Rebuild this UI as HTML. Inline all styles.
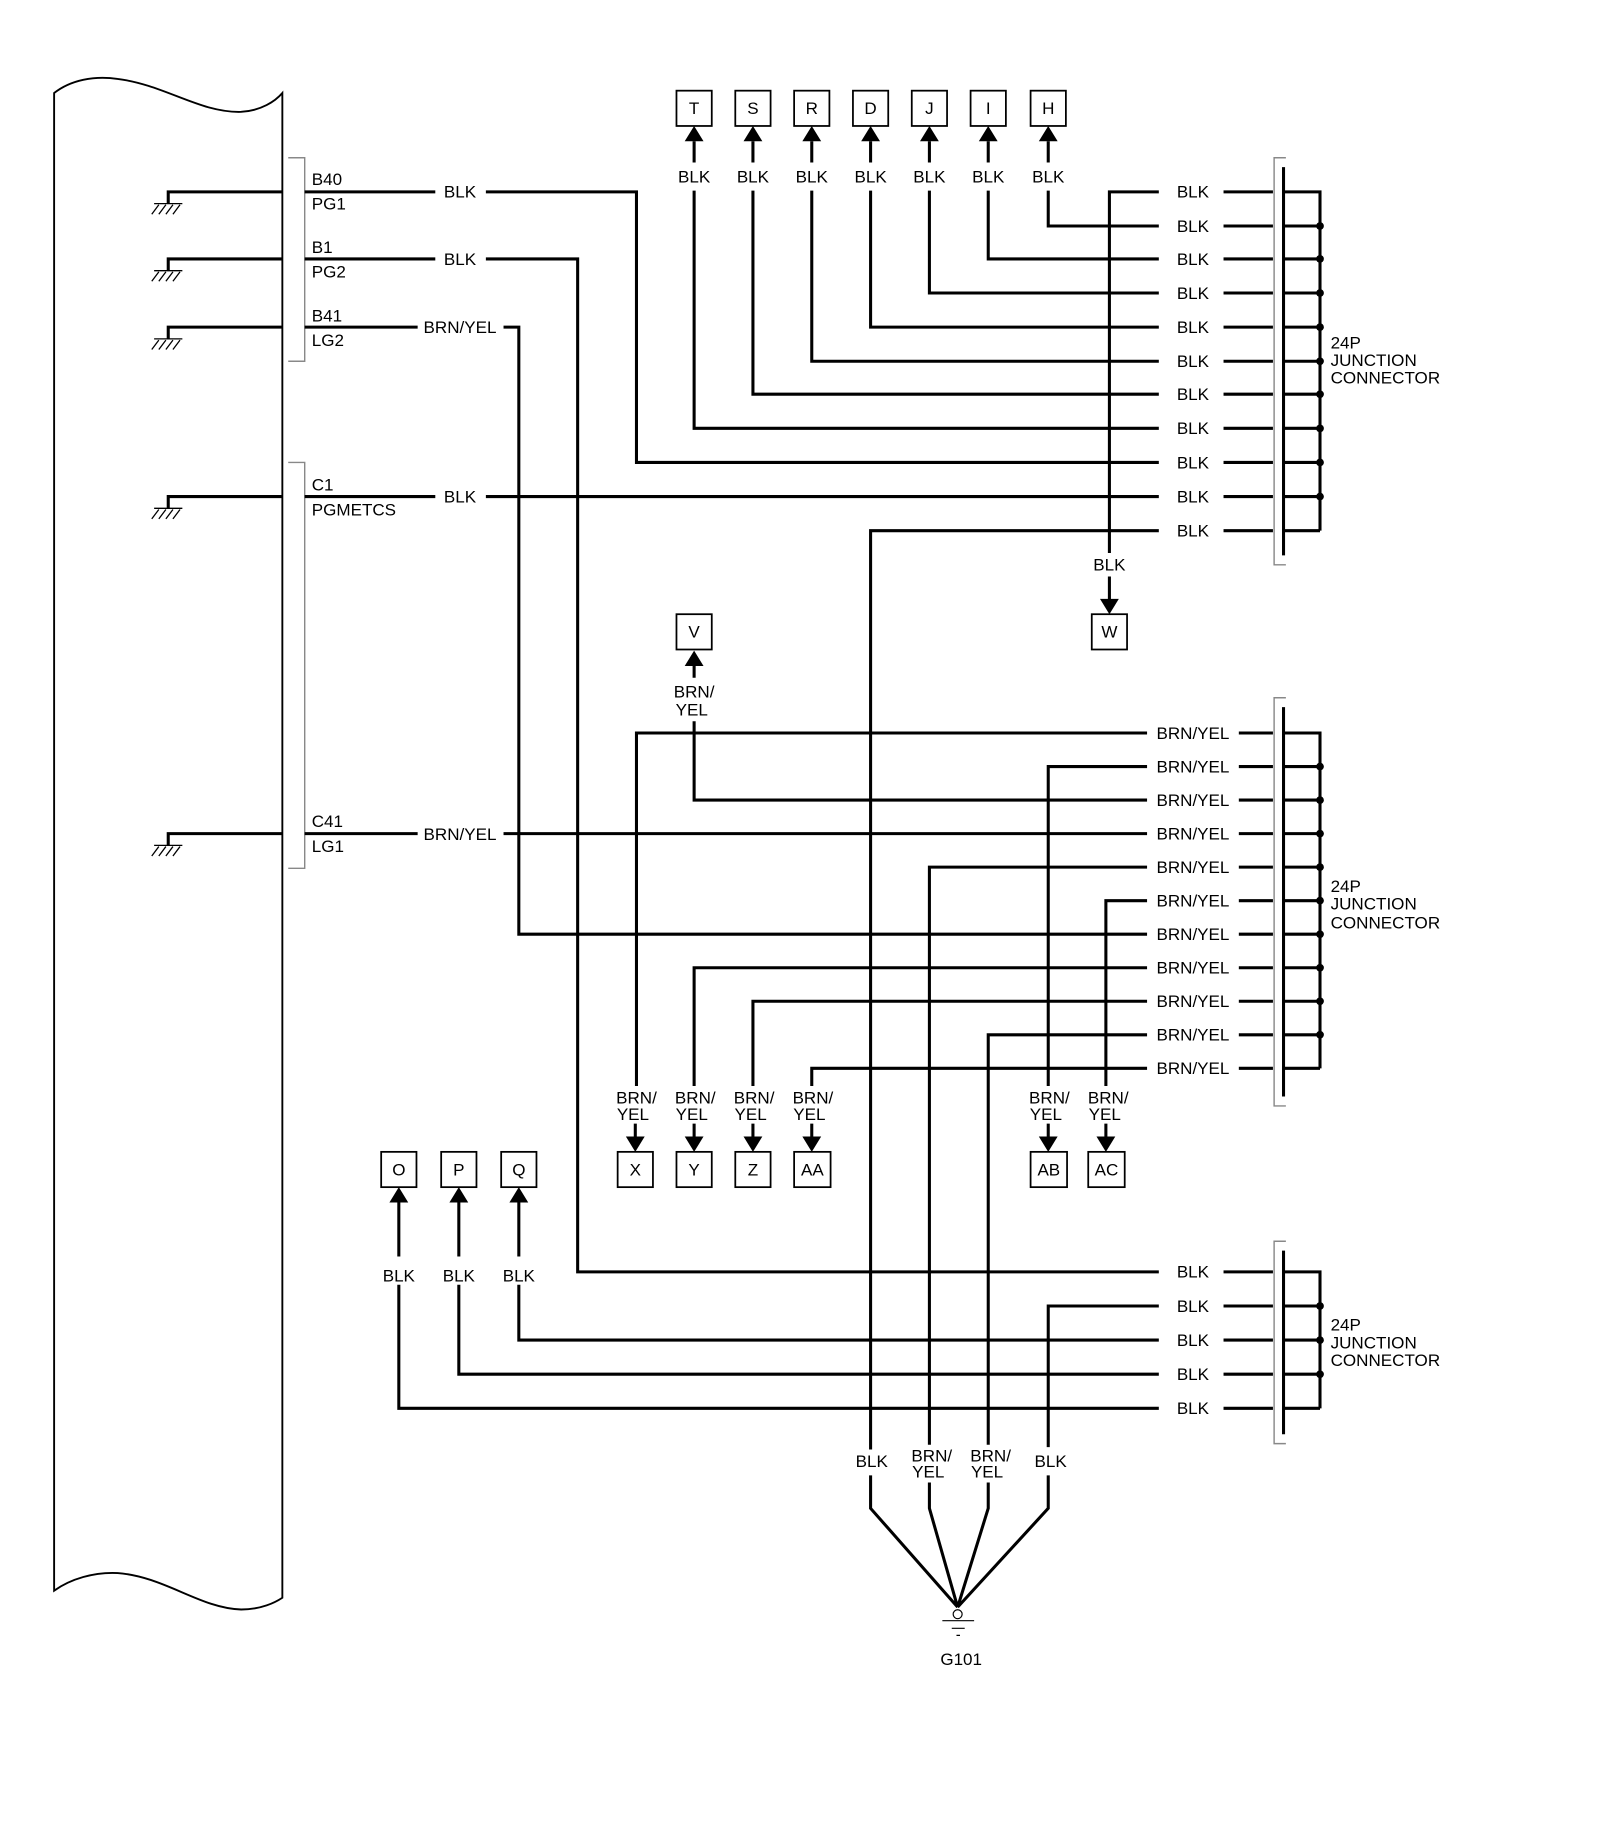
<!DOCTYPE html>
<html><head><meta charset="utf-8"><style>
html,body{margin:0;padding:0;background:#fff;}
svg{display:block;}
text{font-family:"Liberation Sans",Arial,sans-serif;font-size:14.5px;fill:#000;}
.m{text-anchor:middle;}
</style></head><body>
<svg width="1600" height="1839" viewBox="0 0 1360 1563" xmlns="http://www.w3.org/2000/svg">
<g fill="none" stroke="#000" stroke-width="1.6">
<path d="M46,79 C60,68 80,64 100,67 C140,72 170,96 205,95 C222,94 234,86 240,79 V1358 C234,1362 222,1368 205,1368 C170,1367 140,1340 100,1337 C80,1336 60,1342 46,1352 Z"/>
</g>
<!-- grounds at module -->
<g fill="none" stroke="#000" stroke-width="2.6">
<path d="M240,163H143V173 M240,220H143V230 M240,278H143V288 M240,422H143V432 M240,708.5H143V718.5"/>
</g>
<g fill="none" stroke="#000" stroke-width="1.1">
<path d="M131,173H155 M135,174l-6,8 M141,174l-6,8 M147,174l-6,8 M153,174l-6,8"/>
<path d="M131,230H155 M135,231l-6,8 M141,231l-6,8 M147,231l-6,8 M153,231l-6,8"/>
<path d="M131,288H155 M135,289l-6,8 M141,289l-6,8 M147,289l-6,8 M153,289l-6,8"/>
<path d="M131,432H155 M135,433l-6,8 M141,433l-6,8 M147,433l-6,8 M153,433l-6,8"/>
<path d="M131,718.5H155 M135,719.5l-6,8 M141,719.5l-6,8 M147,719.5l-6,8 M153,719.5l-6,8"/>
</g>
<!-- gray brackets -->
<g fill="none" stroke="#888" stroke-width="1.2">
<path d="M245,134H259V307H245 M245,393H259V738H245"/>
<path d="M1093,134H1083V480H1093 M1093,593H1083V940H1093 M1093,1055H1083V1227H1093"/>
</g>
<!-- wires -->
<g fill="none" stroke="#000" stroke-width="2.6">
<path d="M259,163H370 M413,163H541V393H985"/>
<path d="M259,220H370 M413,220H491V1081H985"/>
<path d="M259,278H355 M428,278H441V794H975"/>
<path d="M259,422H370 M413,422H985"/>
<path d="M259,708.5H355 M428,708.5H975"/>
<!-- connector1 sources -->
<path d="M943,470V163H985"/>
<path d="M891,162V192H985 M840,162V220H985 M790,162V249H985 M740,162V278H985 M690,162V307H985 M640,162V335H985 M590,162V364H985"/>
<path d="M740,1232V451H985"/>
<!-- connector1 right -->
<path d="M1040,163H1082 M1040,192H1082 M1040,220H1082 M1040,249H1082 M1040,278H1082 M1040,307H1082 M1040,335H1082 M1040,364H1082 M1040,393H1082 M1040,422H1082 M1040,451H1082"/>
<path d="M1091,142V472 M1091,163H1122V451 M1091,192H1122 M1091,220H1122 M1091,249H1122 M1091,278H1122 M1091,307H1122 M1091,335H1122 M1091,364H1122 M1091,393H1122 M1091,422H1122 M1091,451H1122"/>
<!-- connector2 sources -->
<path d="M541,923V623H975 M891,923V651.5H975 M590,613V680H975 M790,1228V737H975 M940,923V765.5H975 M590,923V822.5H975 M640,923V851H975 M840,1228V879.5H975 M690,923V908H975"/>
<path d="M1053,623H1082 M1053,651.5H1082 M1053,680H1082 M1053,708.5H1082 M1053,737H1082 M1053,765.5H1082 M1053,794H1082 M1053,822.5H1082 M1053,851H1082 M1053,879.5H1082 M1053,908H1082"/>
<path d="M1091,601V932 M1091,623H1122V908 M1091,651.5H1122 M1091,680H1122 M1091,708.5H1122 M1091,737H1122 M1091,765.5H1122 M1091,794H1122 M1091,822.5H1122 M1091,851H1122 M1091,879.5H1122 M1091,908H1122"/>
<!-- connector3 -->
<path d="M891,1230V1110H985 M441,1092V1139H985 M390,1092V1168H985 M339,1092V1197H985"/>
<path d="M1040,1081H1082 M1040,1110H1082 M1040,1139H1082 M1040,1168H1082 M1040,1197H1082"/>
<path d="M1091,1063V1219 M1091,1081H1122V1197 M1091,1110H1122 M1091,1139H1122 M1091,1168H1122 M1091,1197H1122"/>
<!-- ground converge -->
<path d="M740,1254V1282L814,1366 M790,1260V1282L814,1366 M840,1260V1282L814,1366 M891,1254V1282L814,1366"/>
<!-- arrow shafts -->
<path d="M590,120V138 M640,120V138 M690,120V138 M740,120V138 M790,120V138 M840,120V138 M891,120V138"/>
<path d="M943,490V510 M590,565V576"/>
<path d="M540,955V967 M590,955V967 M640,955V967 M690,955V967 M891,955V967 M940,955V967"/>
<path d="M339,1021V1068 M390,1021V1068 M441,1021V1068"/>
</g>
<!-- dots -->
<g fill="#000">
<circle cx="1122" cy="192" r="3.3"/><circle cx="1122" cy="220" r="3.3"/><circle cx="1122" cy="249" r="3.3"/><circle cx="1122" cy="278" r="3.3"/><circle cx="1122" cy="307" r="3.3"/><circle cx="1122" cy="335" r="3.3"/><circle cx="1122" cy="364" r="3.3"/><circle cx="1122" cy="393" r="3.3"/><circle cx="1122" cy="422" r="3.3"/>
<circle cx="1122" cy="651.5" r="3.3"/><circle cx="1122" cy="680" r="3.3"/><circle cx="1122" cy="708.5" r="3.3"/><circle cx="1122" cy="737" r="3.3"/><circle cx="1122" cy="765.5" r="3.3"/><circle cx="1122" cy="794" r="3.3"/><circle cx="1122" cy="822.5" r="3.3"/><circle cx="1122" cy="851" r="3.3"/><circle cx="1122" cy="879.5" r="3.3"/>
<circle cx="1122" cy="1110" r="3.3"/><circle cx="1122" cy="1139" r="3.3"/><circle cx="1122" cy="1168" r="3.3"/>
<!-- arrowheads up -->
<path d="M590,107l-8,13h16z M640,107l-8,13h16z M690,107l-8,13h16z M740,107l-8,13h16z M790,107l-8,13h16z M840,107l-8,13h16z M891,107l-8,13h16z"/>
<path d="M590,553l-8,13h16z"/>
<path d="M339,1009l-8,13h16z M390,1009l-8,13h16z M441,1009l-8,13h16z"/>
<!-- arrowheads down -->
<path d="M943,522l-8,-13h16z"/>
<path d="M540,979l-8,-13h16z M590,979l-8,-13h16z M640,979l-8,-13h16z M690,979l-8,-13h16z M891,979l-8,-13h16z M940,979l-8,-13h16z"/>
</g>
<!-- boxes -->
<g fill="#fff" stroke="#000" stroke-width="1.5">
<rect x="575" y="77" width="30" height="30"/><rect x="625" y="77" width="30" height="30"/><rect x="675" y="77" width="30" height="30"/><rect x="725" y="77" width="30" height="30"/><rect x="775" y="77" width="30" height="30"/><rect x="825" y="77" width="30" height="30"/><rect x="876" y="77" width="30" height="30"/>
<rect x="928" y="522" width="30" height="30"/><rect x="575" y="522" width="30" height="30"/>
<rect x="525" y="979" width="30" height="30"/><rect x="575" y="979" width="30" height="30"/><rect x="625" y="979" width="30" height="30"/><rect x="675" y="979" width="31" height="30"/><rect x="876" y="979" width="31" height="30"/><rect x="925" y="979" width="31" height="30"/>
<rect x="324" y="979" width="30" height="30"/><rect x="375" y="979" width="30" height="30"/><rect x="426" y="979" width="30" height="30"/>
</g>
<!-- ground symbol -->
<g fill="none" stroke="#000" stroke-width="1">
<circle cx="814" cy="1372" r="3.8"/>
<path d="M801,1377.5H828 M809,1384H820 M813,1390H816"/>
</g>
<!-- text -->
<g>
<text class="m" x="590" y="97">T</text><text class="m" x="640" y="97">S</text><text class="m" x="690" y="97">R</text><text class="m" x="740" y="97">D</text><text class="m" x="790" y="97">J</text><text class="m" x="840" y="97">I</text><text class="m" x="891" y="97">H</text>
<text class="m" x="943" y="542">W</text><text class="m" x="590" y="542">V</text>
<text class="m" x="540" y="999">X</text><text class="m" x="590" y="999">Y</text><text class="m" x="640" y="999">Z</text><text class="m" x="690.5" y="999">AA</text><text class="m" x="891.5" y="999">AB</text><text class="m" x="940.5" y="999">AC</text>
<text class="m" x="339" y="999">O</text><text class="m" x="390" y="999">P</text><text class="m" x="441" y="999">Q</text>

<text class="m" x="590" y="155">BLK</text><text class="m" x="640" y="155">BLK</text><text class="m" x="690" y="155">BLK</text><text class="m" x="740" y="155">BLK</text><text class="m" x="790" y="155">BLK</text><text class="m" x="840" y="155">BLK</text><text class="m" x="891" y="155">BLK</text>
<text class="m" x="943" y="485">BLK</text>
<text class="m" x="590" y="593">BRN/</text><text class="m" x="588" y="608">YEL</text>

<text x="265" y="157">B40</text><text x="265" y="178">PG1</text>
<text x="265" y="215">B1</text><text x="265" y="236">PG2</text>
<text x="265" y="273">B41</text><text x="265" y="294">LG2</text>
<text x="265" y="417">C1</text><text x="265" y="438">PGMETCS</text>
<text x="265" y="703">C41</text><text x="265" y="724">LG1</text>
<text class="m" x="391" y="168">BLK</text><text class="m" x="391" y="225">BLK</text><text class="m" x="391" y="283">BRN/YEL</text><text class="m" x="391" y="427">BLK</text><text class="m" x="391" y="714">BRN/YEL</text>

<text class="m" x="1014" y="168">BLK</text><text class="m" x="1014" y="197">BLK</text><text class="m" x="1014" y="225">BLK</text><text class="m" x="1014" y="254">BLK</text><text class="m" x="1014" y="283">BLK</text><text class="m" x="1014" y="312">BLK</text><text class="m" x="1014" y="340">BLK</text><text class="m" x="1014" y="369">BLK</text><text class="m" x="1014" y="398">BLK</text><text class="m" x="1014" y="427">BLK</text><text class="m" x="1014" y="456">BLK</text>

<text class="m" x="1014" y="628">BRN/YEL</text><text class="m" x="1014" y="656.5">BRN/YEL</text><text class="m" x="1014" y="685">BRN/YEL</text><text class="m" x="1014" y="713.5">BRN/YEL</text><text class="m" x="1014" y="742">BRN/YEL</text><text class="m" x="1014" y="770.5">BRN/YEL</text><text class="m" x="1014" y="799">BRN/YEL</text><text class="m" x="1014" y="827.5">BRN/YEL</text><text class="m" x="1014" y="856">BRN/YEL</text><text class="m" x="1014" y="884.5">BRN/YEL</text><text class="m" x="1014" y="913">BRN/YEL</text>

<text class="m" x="1014" y="1086">BLK</text><text class="m" x="1014" y="1115">BLK</text><text class="m" x="1014" y="1144">BLK</text><text class="m" x="1014" y="1173">BLK</text><text class="m" x="1014" y="1202">BLK</text>

<text x="1131" y="296">24P</text><text x="1131" y="311">JUNCTION</text><text x="1131" y="326">CONNECTOR</text>
<text x="1131" y="758">24P</text><text x="1131" y="773">JUNCTION</text><text x="1131" y="789">CONNECTOR</text>
<text x="1131" y="1131">24P</text><text x="1131" y="1146">JUNCTION</text><text x="1131" y="1161">CONNECTOR</text>

<text class="m" x="541" y="938">BRN/</text><text class="m" x="538" y="952">YEL</text>
<text class="m" x="591" y="938">BRN/</text><text class="m" x="588" y="952">YEL</text>
<text class="m" x="641" y="938">BRN/</text><text class="m" x="638" y="952">YEL</text>
<text class="m" x="691" y="938">BRN/</text><text class="m" x="688" y="952">YEL</text>
<text class="m" x="892" y="938">BRN/</text><text class="m" x="889" y="952">YEL</text>
<text class="m" x="942" y="938">BRN/</text><text class="m" x="939" y="952">YEL</text>

<text class="m" x="339" y="1089">BLK</text><text class="m" x="390" y="1089">BLK</text><text class="m" x="441" y="1089">BLK</text>

<text class="m" x="741" y="1247">BLK</text><text class="m" x="893" y="1247">BLK</text>
<text class="m" x="792" y="1242">BRN/</text><text class="m" x="789" y="1256">YEL</text>
<text class="m" x="842" y="1242">BRN/</text><text class="m" x="839" y="1256">YEL</text>
<text class="m" x="817" y="1415">G101</text>
</g>
</svg>
</body></html>
